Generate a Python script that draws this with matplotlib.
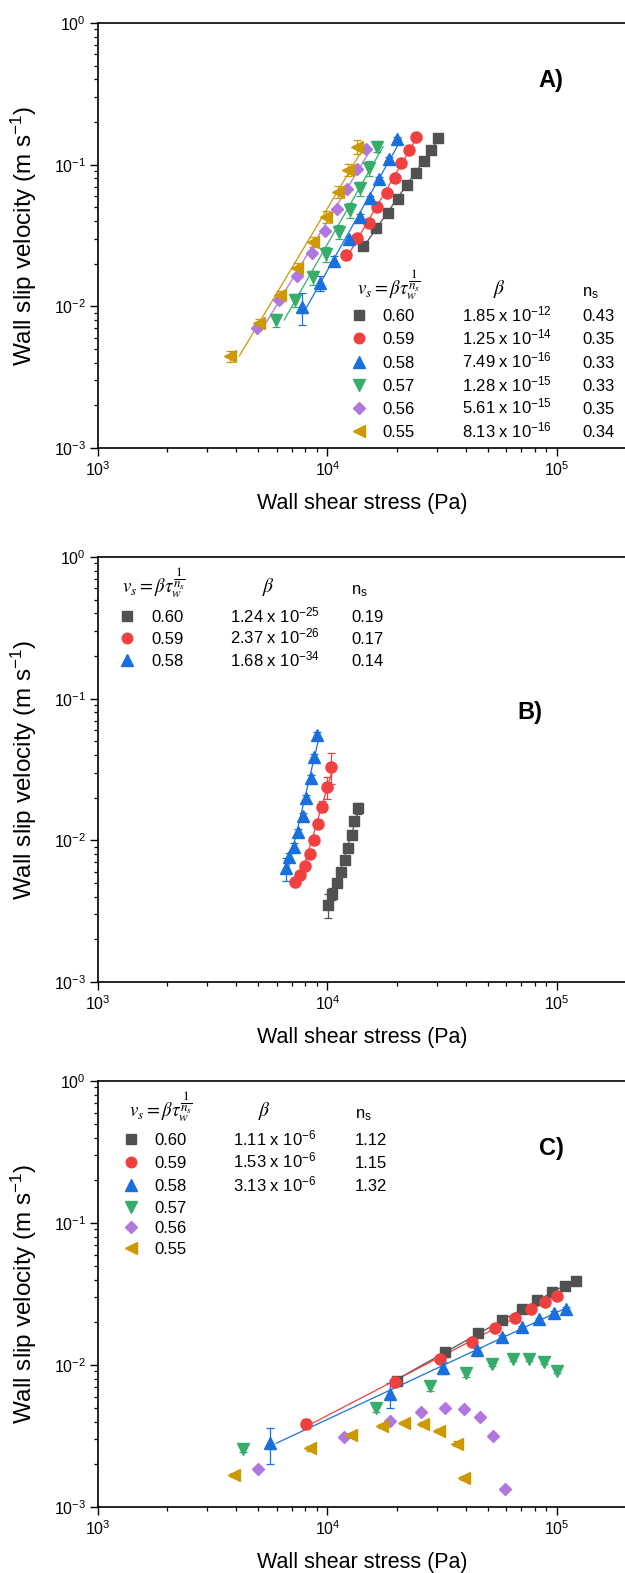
import numpy as np
import matplotlib
matplotlib.use('Agg')
import matplotlib.pyplot as plt
from matplotlib.lines import Line2D
from matplotlib.ticker import LogLocator, NullFormatter

plt.rcParams['font.family'] = ['Liberation Sans', 'DejaVu Sans']
plt.rcParams['mathtext.fontset'] = 'custom'
plt.rcParams['mathtext.rm'] = 'Liberation Sans'
plt.rcParams['mathtext.it'] = 'Liberation Sans:italic'
plt.rcParams['mathtext.bf'] = 'Liberation Sans:bold'

# ---------------- data ----------------
labels = ['0.60', '0.59', '0.58', '0.57', '0.56', '0.55']
colors = ['#515151', '#F14040', '#1A6FDF', '#37AD6B', '#B177DE', '#CC9900']
markers = ['s', 'o', '^', 'v', 'D', '<']
msizes = [7.5, 8.0, 9.0, 9.0, 6.3, 9.0]

# Panel A
a_tau_060 = [14300, 16300, 18300, 20300, 22300, 24200, 26300, 28400, 30200]
a_v_060 = [0.0268, 0.0356, 0.0458, 0.0573, 0.0719, 0.0878, 0.106, 0.127, 0.155]
a_e_060 = [0.0006, 0.0008, 0.001, 0.0012, 0.0015, 0.0018, 0.002, 0.0025, 0.003]
a_tau_059 = [12000, 13500, 15100, 16500, 18100, 19700, 21000, 22600, 24200]
a_v_059 = [0.0231, 0.0305, 0.0386, 0.050, 0.0628, 0.0802, 0.103, 0.126, 0.158]
a_e_059 = [0.0005, 0.0007, 0.0009, 0.0011, 0.0014, 0.0017, 0.002, 0.0025, 0.003]
a_tau_058 = [7730, 9270, 10700, 12400, 13900, 15400, 16800, 18500, 20100]
a_v_058 = [0.00986, 0.0147, 0.021, 0.030, 0.0425, 0.0579, 0.0793, 0.109, 0.151]
a_e_058 = [0.0025, 0.0018, 0.0015, 0.0015, 0.002, 0.0025, 0.003, 0.004, 0.005]
a_tau_057 = [5970, 7210, 8630, 9840, 11200, 12500, 13900, 15200, 16500]
a_v_057 = [0.0080, 0.0111, 0.0160, 0.0234, 0.0337, 0.0479, 0.068, 0.0943, 0.134]
a_e_057 = [0.0008, 0.0012, 0.0018, 0.0028, 0.004, 0.006, 0.008, 0.011, 0.012]
a_tau_056 = [4940, 6170, 7360, 8550, 9730, 11000, 12200, 13500, 14700]
a_v_056 = [0.00708, 0.011, 0.0165, 0.0239, 0.0342, 0.0484, 0.067, 0.0928, 0.128]
a_e_056 = [0.0002, 0.0003, 0.0004, 0.0006, 0.0008, 0.001, 0.0015, 0.002, 0.003]
a_tau_055 = [3760, 5030, 6210, 7380, 8630, 9820, 11100, 12300, 13500]
a_v_055 = [0.00447, 0.00767, 0.0120, 0.0186, 0.0286, 0.0430, 0.0645, 0.0917, 0.134]
a_e_055 = [0.0004, 0.0005, 0.0008, 0.0015, 0.0025, 0.004, 0.006, 0.009, 0.016]
a_beta_mant = ['1.85', '1.25', '7.49', '1.28', '5.61', '8.13']
a_beta_exp = [-12, -14, -16, -15, -15, -16]
a_ns = ['0.43', '0.35', '0.33', '0.33', '0.35', '0.34']

# Panel B
b_tau_060 = [10100, 10500, 11000, 11500, 11900, 12300, 12800, 13100, 13600]
b_v_060 = [0.0035, 0.00419, 0.00503, 0.00601, 0.00727, 0.0088, 0.0109, 0.0136, 0.0168]
b_e_060 = [0.00065, 0.0004, 0.0003, 0.0003, 0.0004, 0.0005, 0.0006, 0.0009, 0.0014]
b_tau_059 = [7240, 7610, 8000, 8420, 8730, 9120, 9490, 9930, 10400]
b_v_059 = [0.00506, 0.0057, 0.00663, 0.0080, 0.0101, 0.0131, 0.0173, 0.0239, 0.0331]
b_e_059 = [0.0003, 0.0003, 0.0004, 0.0005, 0.0007, 0.0009, 0.0015, 0.0043, 0.008]
b_tau_058 = [6580, 6820, 7170, 7470, 7800, 8090, 8450, 8730, 9040]
b_v_058 = [0.00635, 0.0076, 0.00903, 0.0115, 0.0149, 0.020, 0.0277, 0.039, 0.0554]
b_e_058 = [0.0012, 0.0006, 0.0005, 0.0006, 0.0008, 0.001, 0.0013, 0.0018, 0.003]
b_beta_mant = ['1.24', '2.37', '1.68']
b_beta_exp = [-25, -26, -34]
b_ns = ['0.19', '0.17', '0.14']

# Panel C
c_tau_060 = [20000, 32500, 45100, 57400, 70100, 82000, 94800, 108000, 121000]
c_v_060 = [0.00776, 0.0123, 0.0167, 0.0207, 0.0248, 0.0287, 0.0328, 0.036, 0.039]
c_e_060 = [0.0002, 0.0003, 0.0004, 0.0005, 0.0005, 0.0006, 0.0007, 0.0008, 0.0009]
c_tau_059 = [8060, 19700, 30900, 42700, 53700, 65600, 77100, 88700, 99800]
c_v_059 = [0.00384, 0.00755, 0.0110, 0.0146, 0.0181, 0.0215, 0.0248, 0.0279, 0.0308]
c_e_059 = [0.0003, 0.0002, 0.0003, 0.0004, 0.0004, 0.0005, 0.0006, 0.0007, 0.0012]
c_tau_058 = [5610, 18700, 31800, 44700, 57400, 70100, 83700, 97200, 110000]
c_v_058 = [0.00281, 0.00622, 0.00957, 0.0128, 0.0158, 0.0184, 0.021, 0.0233, 0.0247]
c_e_058 = [0.0008, 0.0012, 0.0009, 0.0004, 0.0004, 0.0005, 0.0005, 0.0006, 0.0008]
c_tau_057 = [4300, 16300, 28000, 40000, 52100, 64100, 75700, 87700, 99800]
c_v_057 = [0.00255, 0.0050, 0.00711, 0.00883, 0.0101, 0.011, 0.0111, 0.01055, 0.00912]
c_e_057 = [0.0001, 0.0003, 0.0005, 0.0006, 0.0003, 0.0004, 0.0004, 0.0004, 0.0003]
c_tau_056 = [4960, 11800, 18800, 25500, 32500, 39400, 46100, 52700, 59400]
c_v_056 = [0.00185, 0.00313, 0.00405, 0.00469, 0.0050, 0.0049, 0.00432, 0.00316, 0.00134]
c_e_056 = [0.00005, 0.0001, 0.0001, 0.0001, 0.0001, 0.0001, 0.0001, 0.0001, 0.00005]
c_tau_055 = [3930, 8390, 12700, 17200, 21500, 26000, 30600, 36600, 39400]
c_v_055 = [0.00168, 0.00259, 0.00321, 0.00372, 0.00392, 0.00384, 0.00345, 0.0028, 0.00159]
c_e_055 = [0.00005, 0.0001, 0.0001, 0.0001, 0.0001, 0.0001, 0.0001, 0.0001, 0.00005]
c_beta_mant = ['1.11', '1.53', '3.13']
c_beta_exp = [-6, -6, -6]
c_ns = ['1.12', '1.15', '1.32']

# ---------------- figure ----------------
W, H = 625, 1573
fig = plt.figure(figsize=(W / 100, H / 100), dpi=100)
LEFT, RIGHT = 98, 626


def fx(px):
    return px / W


def fy(py):
    return 1 - py / H


def make_ax(top, bottom):
    ax = fig.add_axes([LEFT / W, 1 - bottom / H, (RIGHT - LEFT) / W, (bottom - top) / H])
    ax.set_xscale('log')
    ax.set_yscale('log')
    ax.set_xlim(1e3, 2e5)
    ax.set_ylim(1e-3, 1)
    for axis in (ax.xaxis, ax.yaxis):
        axis.set_major_locator(LogLocator(base=10, numticks=10))
        axis.set_minor_locator(LogLocator(base=10, subs=np.arange(2, 10), numticks=30))
        axis.set_minor_formatter(NullFormatter())
    ax.tick_params(which='both', direction='out', top=False, right=False, colors='black')
    ax.tick_params(which='major', length=5.5, width=1.0, labelsize=11.5, pad=3)
    ax.tick_params(which='minor', length=3, width=0.9)
    for s in ax.spines.values():
        s.set_linewidth(1.2)
    ax.set_xlabel('Wall shear stress (Pa)', fontsize=15.5)
    ax.set_ylabel('Wall slip velocity (m s$^{-1}$)', fontsize=17.5)
    ax.xaxis.set_label_coords(0.5, -45.0 / (bottom - top))
    ax.yaxis.set_label_coords((39 - LEFT) / (RIGHT - LEFT), 0.5)
    return ax


def plot_series(ax, tau, v, err, i, fit):
    tau = np.asarray(tau, float)
    v = np.asarray(v, float)
    if fit:
        c = np.polyfit(np.log10(v), np.log10(tau), 1)
        vl = np.array([v.min(), v.max()])
        ax.plot(10 ** np.polyval(c, np.log10(vl)), vl, color=colors[i], lw=0.9, zorder=1)
    ax.errorbar(tau, v, yerr=err, fmt='none', ecolor=colors[i], elinewidth=0.9,
                capsize=3, capthick=0.9, zorder=2)
    ax.plot(tau, v, linestyle='none', marker=markers[i], color=colors[i],
            ms=msizes[i], mec=colors[i], zorder=3)


def legend_table(head_y, rows_y, mx, lab_x, beta_hx, beta_x, ns_x, form_x,
                 mants, exps, nss, n_rows):
    fs = 12
    fig.text(fx(form_x), fy(head_y), r'$v_s = \beta\tau_w^{\dfrac{1}{n_s}}$',
             fontsize=13.5, math_fontfamily='stix', ha='left', va='baseline')
    fig.text(fx(beta_hx), fy(head_y - 1), r'$\beta$', fontsize=14,
             math_fontfamily='stix', ha='center', va='baseline')
    fig.text(fx(ns_x), fy(head_y + 1), r'n$_\mathregular{s}$', fontsize=fs,
             ha='left', va='baseline')
    for k in range(n_rows):
        y = rows_y[k]
        fig.add_artist(Line2D([fx(mx)], [fy(y)], transform=fig.transFigure,
                              marker=markers[k], color=colors[k], ms=msizes[k] * 0.95,
                              linestyle='none'))
        fig.text(fx(lab_x), fy(y + 6), labels[k], fontsize=fs, ha='left', va='baseline')
        if k < len(mants):
            fig.text(fx(beta_x), fy(y + 6), r'%s x 10$^{%d}$' % (mants[k], exps[k]),
                     fontsize=fs, ha='left', va='baseline')
            fig.text(fx(ns_x), fy(y + 6), nss[k], fontsize=fs, ha='left', va='baseline')


# Panel A
axA = make_ax(23, 448)
for i, (t, v, e) in enumerate([(a_tau_060, a_v_060, a_e_060), (a_tau_059, a_v_059, a_e_059),
                               (a_tau_058, a_v_058, a_e_058), (a_tau_057, a_v_057, a_e_057),
                               (a_tau_056, a_v_056, a_e_056), (a_tau_055, a_v_055, a_e_055)]):
    plot_series(axA, t, v, e, i, True)
legend_table(295, [315, 338.3, 361.7, 385, 407.7, 431], 359, 382.7, 499, 461.7, 582, 357,
             a_beta_mant, a_beta_exp, a_ns, 6)
fig.text(fx(551), fy(81), 'A)', fontsize=17, fontweight='bold', ha='center', va='center')

# Panel B
axB = make_ax(557, 982)
for i, (t, v, e) in enumerate([(b_tau_060, b_v_060, b_e_060), (b_tau_059, b_v_059, b_e_059),
                               (b_tau_058, b_v_058, b_e_058)]):
    plot_series(axB, t, v, e, i, True)
legend_table(593, [616, 637.7, 660], 126.7, 151, 268, 230, 351, 122,
             b_beta_mant, b_beta_exp, b_ns, 3)
fig.text(fx(530), fy(712), 'B)', fontsize=17, fontweight='bold', ha='center', va='center')

# Panel C
axC = make_ax(1081, 1507)
for i, (t, v, e) in enumerate([(c_tau_060, c_v_060, c_e_060), (c_tau_059, c_v_059, c_e_059),
                               (c_tau_058, c_v_058, c_e_058), (c_tau_057, c_v_057, c_e_057),
                               (c_tau_056, c_v_056, c_e_056), (c_tau_055, c_v_055, c_e_055)]):
    plot_series(axC, t, v, e, i, i < 3)
legend_table(1117, [1139.3, 1161.7, 1185, 1206.7, 1227.3, 1248.3], 130.7, 154, 264, 233, 355, 129,
             c_beta_mant, c_beta_exp, c_ns, 6)
fig.text(fx(551), fy(1148), 'C)', fontsize=17, fontweight='bold', ha='center', va='center')

fig.savefig('out.png', dpi=100)
